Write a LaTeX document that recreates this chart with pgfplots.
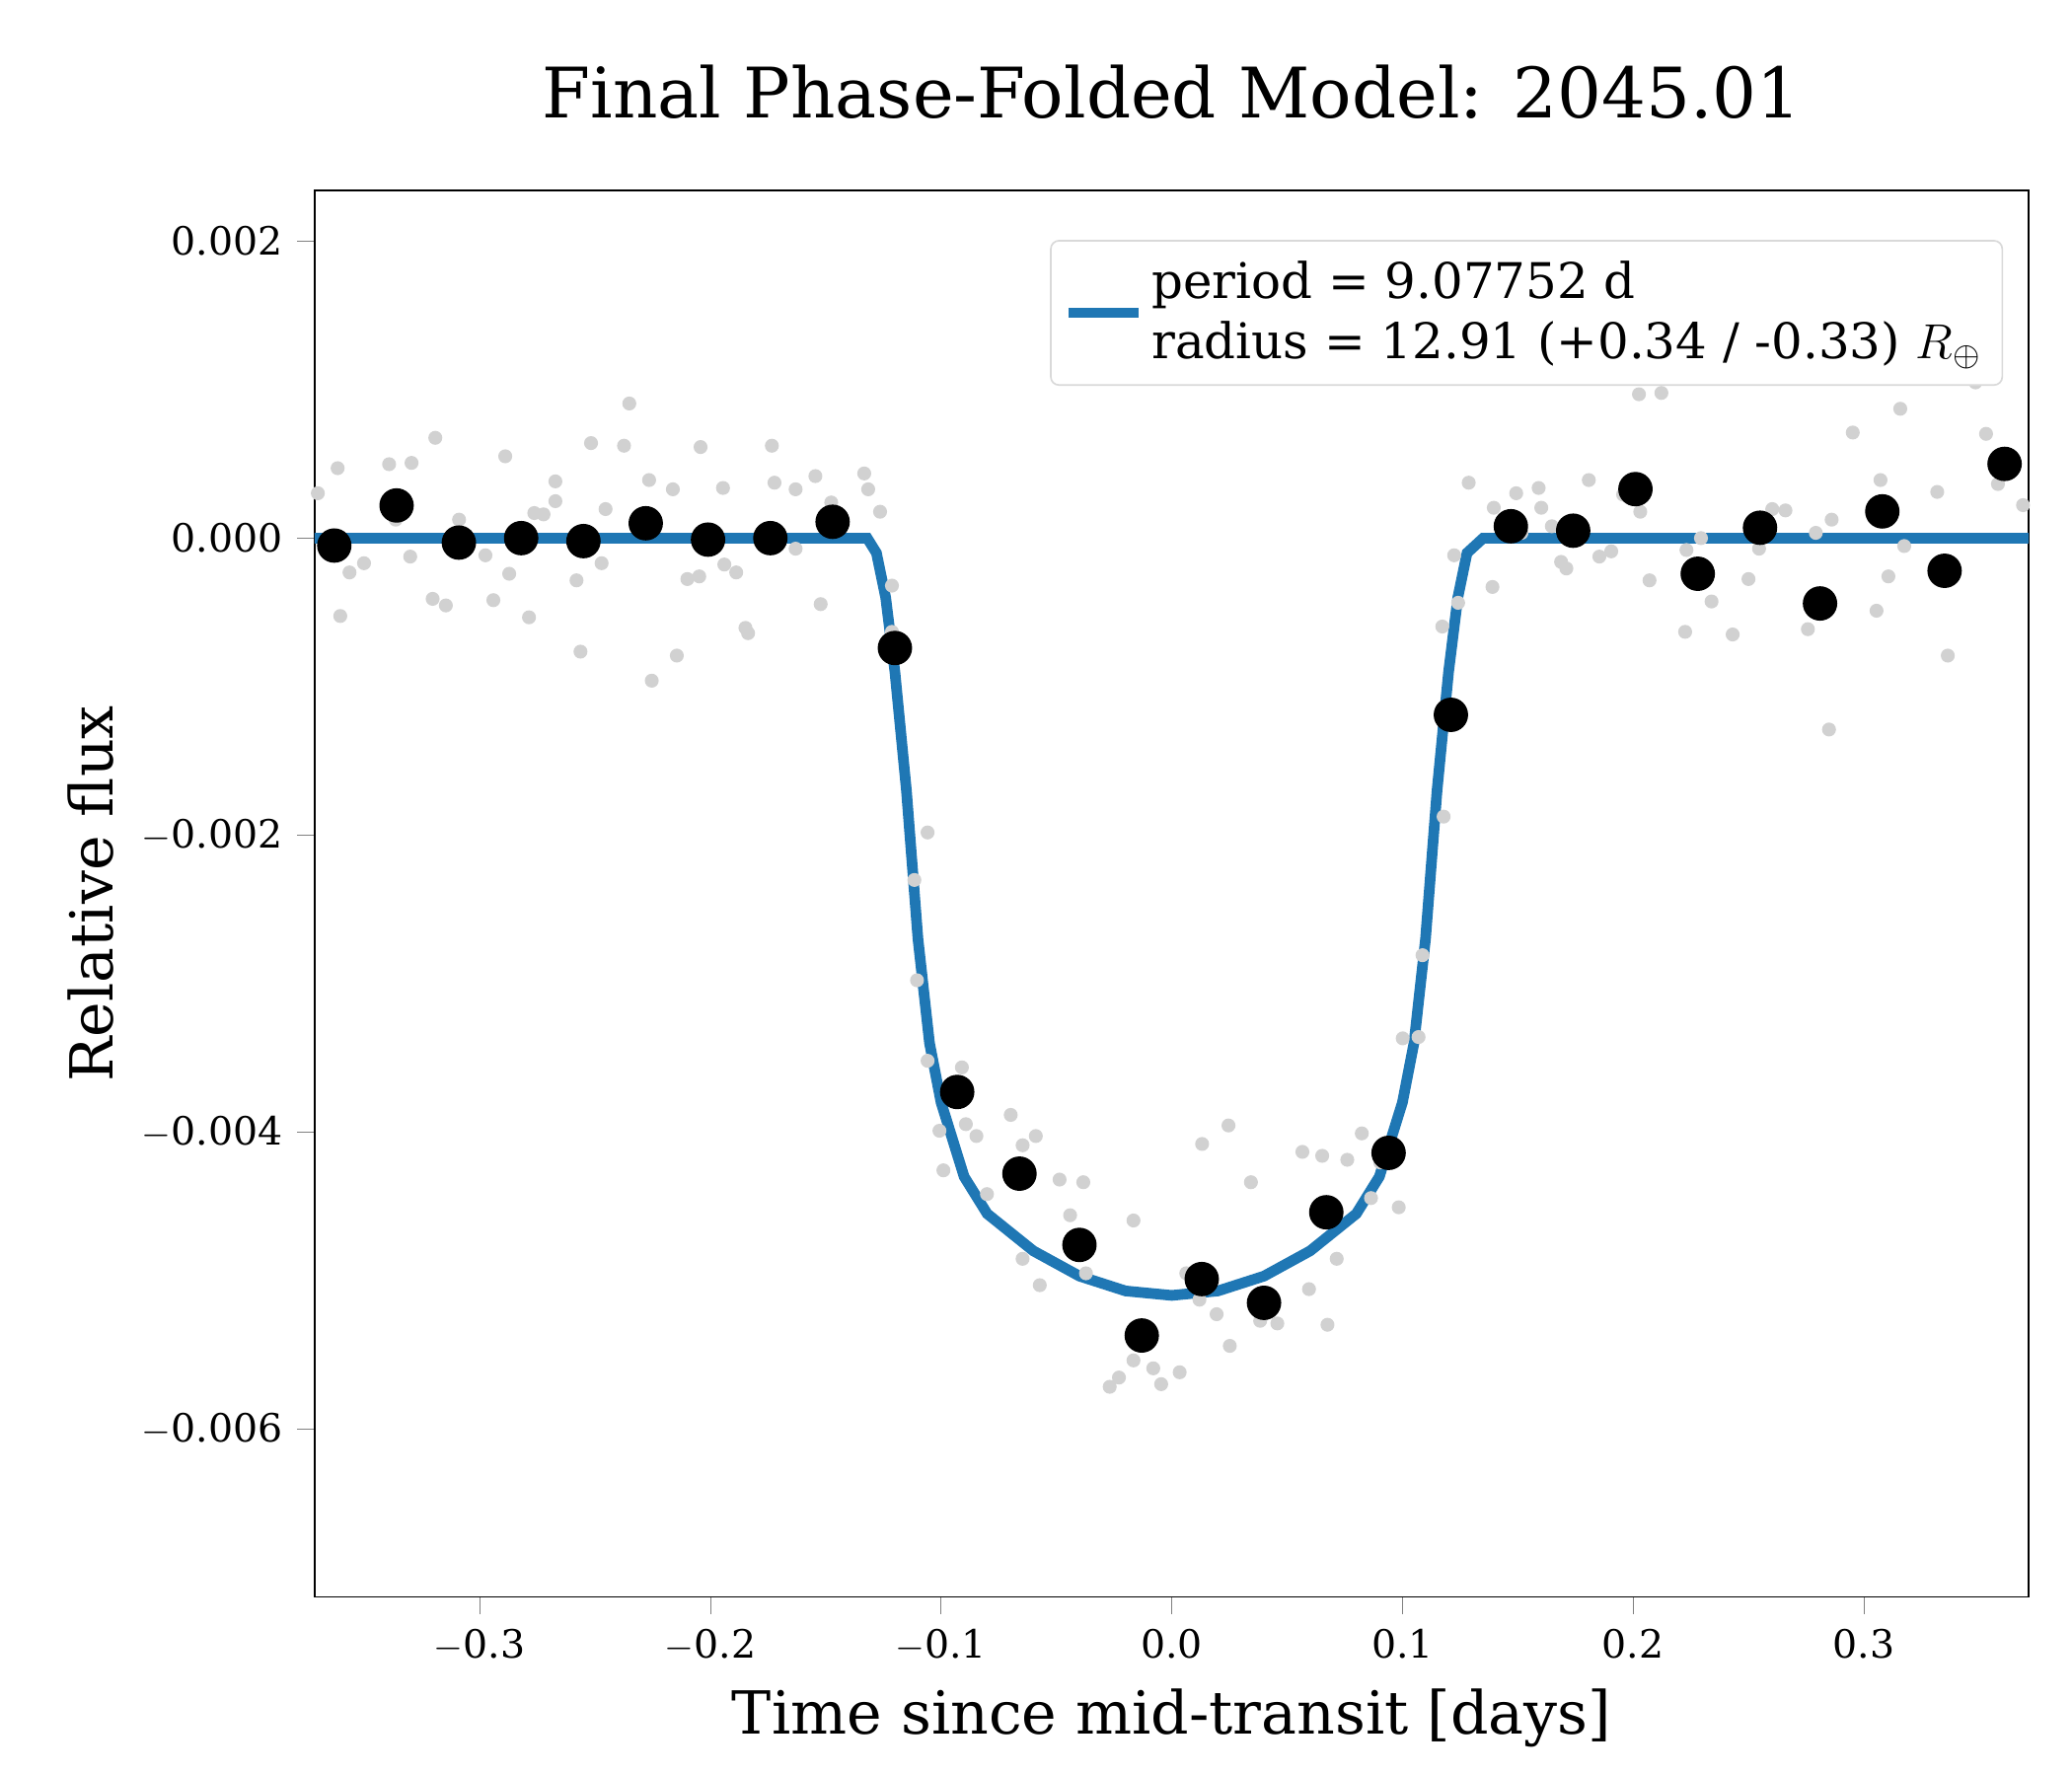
\documentclass[border=0pt]{standalone}
\usepackage{pgfplots}
\pgfplotsset{compat=1.18}
\usepackage{fontspec}
\setmainfont{DejaVu Serif}
\definecolor{mblue}{HTML}{1F77B4}
\begin{document}
\begin{tikzpicture}
\useasboundingbox (-1.063in,-0.60in) rectangle (5.936in,5.394in);
\begin{axis}[at={(0,0)},anchor=south west,scale only axis,width=5.79in,height=4.75in,
 xmin=-0.3715,xmax=0.3715,ymin=-0.00713,ymax=0.00234,
 xtick={-0.3,-0.2,-0.1,0,0.1,0.2,0.3},
 xticklabels={$-$0.3,$-$0.2,$-$0.1,0.0,0.1,0.2,0.3},
 ytick={-0.006,-0.004,-0.002,0,0.002},
 yticklabels={$-$0.006,$-$0.004,$-$0.002,0.000,0.002},
 scaled y ticks=false,
 tick label style={font=\fontsize{9.5}{11}\selectfont},
 xlabel={Time since mid-transit [days]},ylabel={Relative flux},
 label style={font=\fontsize{14.5}{17}\selectfont},
 title={Final Phase-Folded Model: 2045.01},
 title style={font=\fontsize{17}{20}\selectfont,yshift=8pt},
 tick align=outside,xtick pos=bottom,ytick pos=left,
 legend style={at={(0.985,0.965)},anchor=north east,draw=black!15,rounded corners=2pt,font=\fontsize{12}{14}\selectfont,inner sep=3pt},
 legend cell align=left,
 legend image post style={line width=2.6pt},
]
\addplot[only marks,mark=*,mark size=1.5pt,color=black!18,forget plot]
 table[x expr={(\thisrowno{0}-885)/1748},y expr={(389-\thisrowno{1})*0.002/225}] {
238 355
253 336
255 448
262 415
273 408
292 333
297 375
308 403
309 332
325 435
335 440
327 313
345 375
365 402
371 436
380 327
383 416
398 449
402 370
409 371
418 346
418 361
434 421
437 475
445 317
453 408
456 367
470 319
474 287
489 345
491 497
507 352
510 478
518 420
528 320
527 418
545 351
546 409
555 415
562 457
564 461
582 319
584 347
600 352
600 397
615 342
619 439
627 362
652 340
655 352
664 369
673 425
673 460
700 612
690 648
692 724
700 785
709 838
712 868
726 790
729 833
737 842
745 886
763 826
772 849
782 842
785 955
772 935
800 875
808 902
818 877
820 946
838 1032
845 1025
856 906
856 1012
871 1018
877 1030
891 1021
896 946
906 966
908 848
919 977
929 1001
928 834
945 877
952 982
965 984
984 854
989 958
999 857
1003 985
1010 935
1018 860
1029 840
1036 889
1043 862
1057 896
1060 768
1075 705
1072 767
1090 456
1091 600
1099 402
1102 438
1110 347
1128 426
1129 366
1137 384
1146 355
1150 385
1163 351
1165 366
1173 380
1180 407
1184 412
1201 345
1209 403
1218 399
1227 356
1239 280
1240 369
1247 421
1256 279
1274 460
1275 398
1286 389
1294 437
1310 462
1313 256
1322 420
1330 397
1340 367
1350 368
1367 458
1373 385
1383 534
1385 375
1401 309
1419 444
1422 345
1428 418
1437 291
1440 395
1465 354
1473 478
1494 271
1502 310
1511 348
1530 364
};
\addplot[color=mblue,line width=2.6pt] coordinates {
(-0.3715,0) (-0.132,0) (-0.128,-0.0001) (-0.124,-0.0004) (-0.12,-0.0009) (-0.115,-0.0017)
(-0.11,-0.0027) (-0.105,-0.0034) (-0.1,-0.0038) (-0.09,-0.0043) (-0.08,-0.00455)
(-0.06,-0.0048) (-0.04,-0.00497) (-0.02,-0.00507) (0,-0.0051) (0.02,-0.00507)
(0.04,-0.00497) (0.06,-0.0048) (0.08,-0.00455) (0.09,-0.0043) (0.1,-0.0038)
(0.105,-0.0034) (0.11,-0.0027) (0.115,-0.0017) (0.12,-0.0009) (0.124,-0.0004)
(0.128,-0.0001) (0.135,0) (0.3715,0)};
\addlegendentry{\shortstack[l]{period = 9.07752 d\\radius = 12.91 (+0.34 / -0.33) $R_\oplus$}}
\addplot[only marks,mark=*,mark size=4pt,color=black,forget plot] coordinates {
(-0.363,-0.00005) (-0.336,0.00022) (-0.309,-0.00003) (-0.282,0.0) (-0.255,-0.00002)
(-0.228,0.0001) (-0.201,-0.00001) (-0.174,0.0) (-0.147,0.00011) (-0.120,-0.00074)
(-0.093,-0.00373) (-0.066,-0.00428) (-0.040,-0.00476) (-0.013,-0.00537) (0.013,-0.00499)
(0.040,-0.00515) (0.067,-0.00454) (0.094,-0.00414) (0.121,-0.00119) (0.147,0.00008)
(0.174,0.00005) (0.201,0.00033) (0.228,-0.00024) (0.255,0.00007) (0.281,-0.00044)
(0.308,0.00018) (0.335,-0.00022) (0.361,0.00050)};
\end{axis}
\end{tikzpicture}
\end{document}
